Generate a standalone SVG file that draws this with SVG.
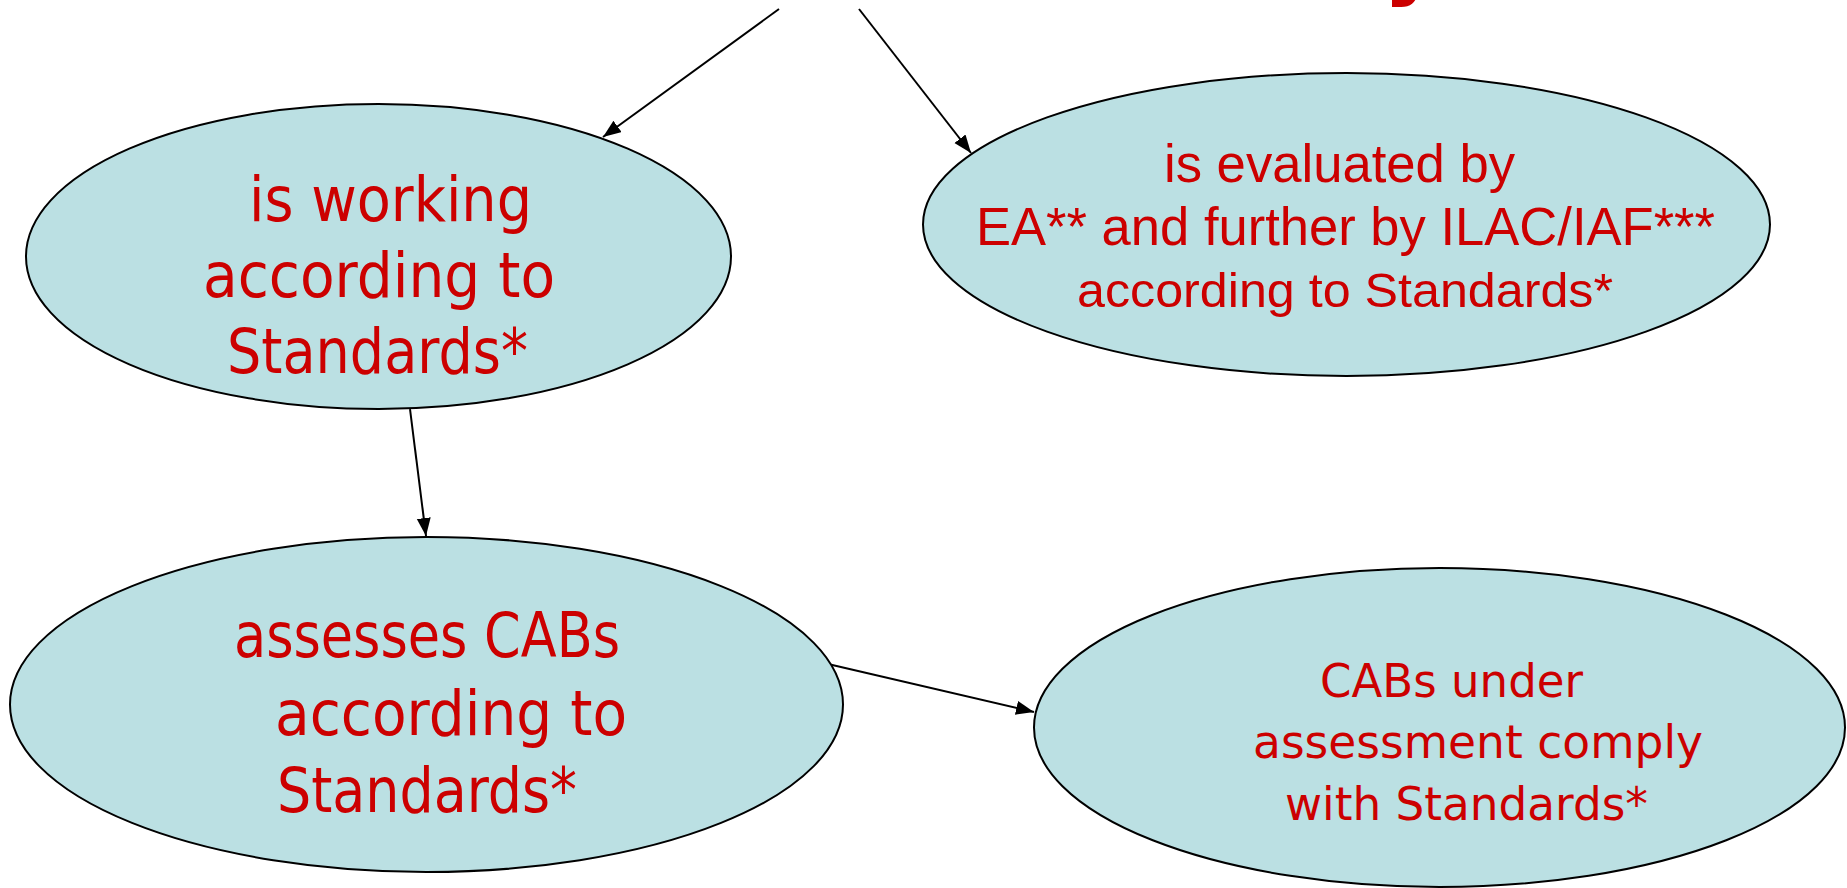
<svg xmlns="http://www.w3.org/2000/svg" width="1847" height="888" viewBox="0 0 1847 888">
  <style>
    .bubble { fill: #BBE0E3; stroke: #000; stroke-width: 2; }
    .lbl { fill: #CC0000; font-family: "DejaVu Sans", "Noto Sans", sans-serif; }
    .lbl-a { fill: #CC0000; font-family: "Liberation Sans", Arial, sans-serif; }
    .edge { stroke: #000; stroke-width: 2; fill: none; marker-end: url(#head); }
  </style>
  <defs>
    <marker id="head" markerUnits="userSpaceOnUse" markerWidth="20" markerHeight="16" refX="18" refY="7" orient="auto">
      <path d="M0,0 L18,7 L0,14 z" fill="#000"/>
    </marker>
  </defs>
  <rect width="1847" height="888" fill="#fff"/>

  <!-- tail of the heading, cut off by the top edge -->
  <text x="1383" y="-13" font-family="'DejaVu Sans', sans-serif" font-weight="bold" font-size="90" fill="#CC0000">y</text>

  <g id="connectors">
    <line class="edge" x1="779" y1="9" x2="603" y2="137"/>
    <line class="edge" x1="859" y1="9" x2="971" y2="153"/>
    <line class="edge" x1="410" y1="409" x2="426" y2="536"/>
    <line class="edge" x1="828" y1="664" x2="1034" y2="712"/>
  </g>

  <g id="node-working">
    <ellipse class="bubble" cx="378.5" cy="256.5" rx="352.5" ry="152.5"/>
    <text class="lbl" font-size="62" x="249" y="221" textLength="283" lengthAdjust="spacingAndGlyphs">is working</text>
    <text class="lbl" font-size="62" x="203" y="297" textLength="352" lengthAdjust="spacingAndGlyphs">according to</text>
    <text class="lbl" font-size="62" x="227" y="373" textLength="301" lengthAdjust="spacingAndGlyphs">Standards*</text>
  </g>

  <g id="node-evaluated">
    <ellipse class="bubble" cx="1346.5" cy="224.5" rx="423.5" ry="151.5"/>
    <text class="lbl-a" font-size="53" x="1164" y="182" textLength="351" lengthAdjust="spacingAndGlyphs">is evaluated by</text>
    <text class="lbl-a" font-size="53" x="976" y="245" textLength="739" lengthAdjust="spacingAndGlyphs">EA** and further by ILAC/IAF***</text>
    <text class="lbl-a" font-size="48" x="1077" y="307" textLength="536" lengthAdjust="spacingAndGlyphs">according to Standards*</text>
  </g>

  <g id="node-assesses">
    <ellipse class="bubble" cx="426.5" cy="704.5" rx="416.5" ry="167.5"/>
    <text class="lbl" font-size="62" x="234" y="657" textLength="386" lengthAdjust="spacingAndGlyphs">assesses CABs</text>
    <text class="lbl" font-size="62" x="275" y="735" textLength="352" lengthAdjust="spacingAndGlyphs">according to</text>
    <text class="lbl" font-size="62" x="277" y="812" textLength="300" lengthAdjust="spacingAndGlyphs">Standards*</text>
  </g>

  <g id="node-comply">
    <ellipse class="bubble" cx="1439.5" cy="727.5" rx="405.5" ry="159.5"/>
    <text class="lbl" font-size="46" x="1320" y="697" textLength="263" lengthAdjust="spacingAndGlyphs">CABs under</text>
    <text class="lbl" font-size="46" x="1253" y="758" textLength="450" lengthAdjust="spacingAndGlyphs">assessment comply</text>
    <text class="lbl" font-size="46" x="1285" y="820" textLength="363" lengthAdjust="spacingAndGlyphs">with Standards*</text>
  </g>
</svg>
